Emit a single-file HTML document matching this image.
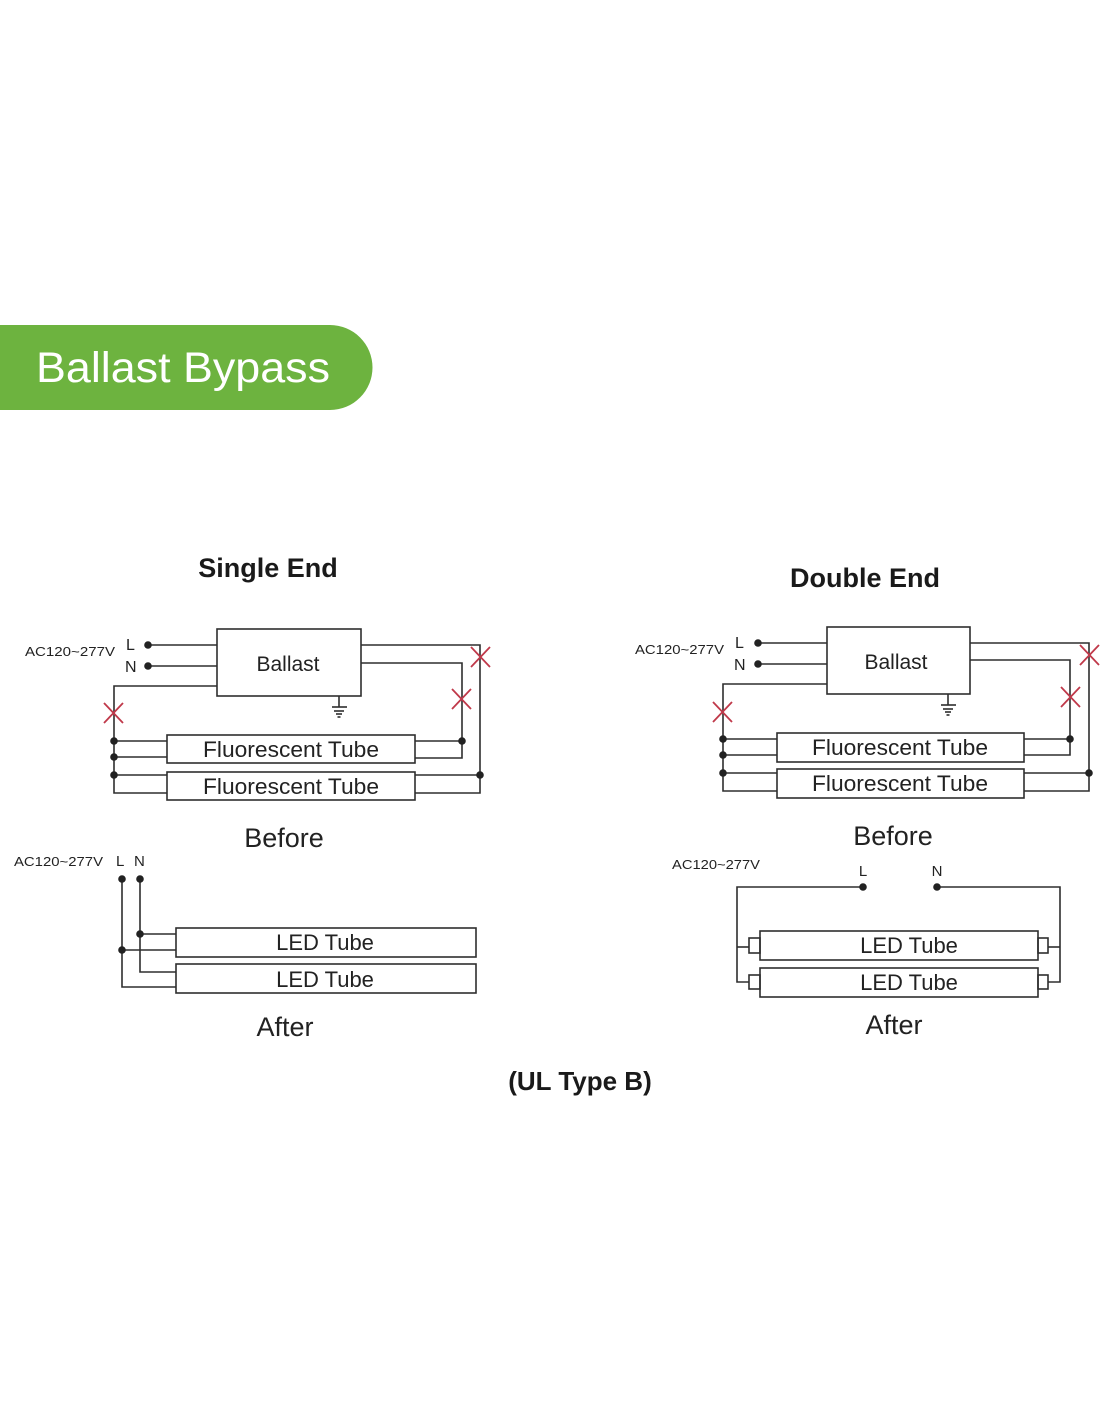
<!DOCTYPE html>
<html>
<head>
<meta charset="utf-8">
<style>
html,body{margin:0;padding:0;background:#fff;}
svg{display:block;}
text{font-family:"Liberation Sans",Arial,sans-serif;fill:#222;}
</style>
</head>
<body>
<svg width="1100" height="1422" viewBox="0 0 1100 1422" xmlns="http://www.w3.org/2000/svg">
<rect width="1100" height="1422" fill="#fff"/>
<!-- Banner -->
<path d="M0 325 H330 A42.5 42.5 0 0 1 330 410 H0 Z" fill="#6db33f"/>
<text x="36" y="382" font-size="43" style="fill:#fff" textLength="294" lengthAdjust="spacingAndGlyphs">Ballast Bypass</text>

<!-- Titles -->
<text x="268" y="577" font-size="27" font-weight="bold" text-anchor="middle" style="fill:#1a1a1a">Single End</text>
<text x="865" y="587" font-size="27" font-weight="bold" text-anchor="middle" style="fill:#1a1a1a">Double End</text>
<text x="580" y="1090" font-size="26" font-weight="bold" text-anchor="middle" style="fill:#1a1a1a">(UL Type B)</text>

<text x="284" y="847" font-size="27" text-anchor="middle">Before</text>
<text x="893" y="845" font-size="27" text-anchor="middle">Before</text>
<text x="285" y="1036" font-size="27" text-anchor="middle">After</text>
<text x="894" y="1034" font-size="27" text-anchor="middle">After</text>

<g stroke="#2e2e2e" stroke-width="1.6" fill="none">
<!-- ===== Single End Before ===== -->
<rect x="217" y="629" width="144" height="67"/>
<line x1="148" y1="645" x2="217" y2="645"/>
<line x1="148" y1="666" x2="217" y2="666"/>
<polyline points="217,686 114,686 114,793 167,793"/>
<line x1="114" y1="741" x2="167" y2="741"/>
<line x1="114" y1="757" x2="167" y2="757"/>
<line x1="114" y1="775" x2="167" y2="775"/>
<rect x="167" y="735" width="248" height="28"/>
<rect x="167" y="772" width="248" height="28"/>
<polyline points="361,645 480,645 480,793 415,793"/>
<polyline points="361,663 462,663 462,758 415,758"/>
<line x1="415" y1="741" x2="462" y2="741"/>
<line x1="415" y1="775" x2="480" y2="775"/>
<line x1="339" y1="696" x2="339" y2="707"/>
<line x1="332" y1="707" x2="347" y2="707"/>
<line x1="334" y1="711" x2="344" y2="711"/>
<line x1="336" y1="714" x2="342" y2="714"/>
<line x1="337.5" y1="717" x2="340.5" y2="717"/>

<!-- ===== Single End After ===== -->
<polyline points="122,879 122,987 176,987"/>
<polyline points="140,879 140,972 176,972"/>
<line x1="122" y1="950" x2="176" y2="950"/>
<line x1="140" y1="934" x2="176" y2="934"/>
<rect x="176" y="928" width="300" height="29"/>
<rect x="176" y="964" width="300" height="29"/>

<!-- ===== Double End Before ===== -->
<rect x="827" y="627" width="143" height="67"/>
<line x1="758" y1="643" x2="827" y2="643"/>
<line x1="758" y1="664" x2="827" y2="664"/>
<polyline points="827,684 723,684 723,791 777,791"/>
<line x1="723" y1="739" x2="777" y2="739"/>
<line x1="723" y1="755" x2="777" y2="755"/>
<line x1="723" y1="773" x2="777" y2="773"/>
<rect x="777" y="733" width="247" height="29"/>
<rect x="777" y="769" width="247" height="29"/>
<polyline points="970,643 1089,643 1089,791 1024,791"/>
<polyline points="970,660 1070,660 1070,755 1024,755"/>
<line x1="1024" y1="739" x2="1070" y2="739"/>
<line x1="1024" y1="773" x2="1089" y2="773"/>
<line x1="948" y1="694" x2="948" y2="705"/>
<line x1="941" y1="705" x2="956" y2="705"/>
<line x1="943" y1="709" x2="953" y2="709"/>
<line x1="945" y1="712" x2="951" y2="712"/>
<line x1="946.5" y1="715" x2="949.5" y2="715"/>

<!-- ===== Double End After ===== -->
<polyline points="863,887 737,887 737,982 749,982"/>
<line x1="737" y1="947" x2="749" y2="947"/>
<polyline points="937,887 1060,887 1060,982 1048,982"/>
<line x1="1048" y1="947" x2="1060" y2="947"/>
<rect x="760" y="931" width="278" height="29"/>
<rect x="760" y="968" width="278" height="29"/>
<rect x="749" y="938" width="11" height="15"/>
<rect x="749" y="975" width="11" height="14"/>
<rect x="1038" y="938" width="10" height="15"/>
<rect x="1038" y="975" width="10" height="14"/>
</g>

<!-- Dots -->
<g fill="#222">
<circle cx="148" cy="645" r="3.8"/>
<circle cx="148" cy="666" r="3.8"/>
<circle cx="114" cy="741" r="3.8"/>
<circle cx="114" cy="757" r="3.8"/>
<circle cx="114" cy="775" r="3.8"/>
<circle cx="462" cy="741" r="3.8"/>
<circle cx="480" cy="775" r="3.8"/>
<circle cx="122" cy="879" r="3.8"/>
<circle cx="140" cy="879" r="3.8"/>
<circle cx="122" cy="950" r="3.8"/>
<circle cx="140" cy="934" r="3.8"/>
<circle cx="758" cy="643" r="3.8"/>
<circle cx="758" cy="664" r="3.8"/>
<circle cx="723" cy="739" r="3.8"/>
<circle cx="723" cy="755" r="3.8"/>
<circle cx="723" cy="773" r="3.8"/>
<circle cx="1070" cy="739" r="3.8"/>
<circle cx="1089" cy="773" r="3.8"/>
<circle cx="863" cy="887" r="3.8"/>
<circle cx="937" cy="887" r="3.8"/>
</g>

<!-- Red X marks -->
<g stroke="#c0394a" stroke-width="1.8" fill="none">
<path d="M104 703 L123 723 M123 703 L104 723"/>
<path d="M471 647 L490 667 M490 647 L471 667"/>
<path d="M452 689 L471 709 M471 689 L452 709"/>
<path d="M713 702 L732 722 M732 702 L713 722"/>
<path d="M1080 645 L1099 665 M1099 645 L1080 665"/>
<path d="M1061 687 L1080 707 M1080 687 L1061 707"/>
</g>

<!-- Labels -->
<text x="25" y="656" font-size="13" textLength="90" lengthAdjust="spacingAndGlyphs">AC120~277V</text>
<text x="126" y="650" font-size="16">L</text>
<text x="125" y="672" font-size="16">N</text>
<text x="635" y="654" font-size="13" textLength="89" lengthAdjust="spacingAndGlyphs">AC120~277V</text>
<text x="735" y="648" font-size="16">L</text>
<text x="734" y="670" font-size="16">N</text>
<text x="14" y="866" font-size="13" textLength="89" lengthAdjust="spacingAndGlyphs">AC120~277V</text>
<text x="116" y="866" font-size="15">L</text>
<text x="134" y="866" font-size="15">N</text>
<text x="672" y="869" font-size="13" textLength="88" lengthAdjust="spacingAndGlyphs">AC120~277V</text>
<text x="863" y="876" font-size="15" text-anchor="middle">L</text>
<text x="937" y="876" font-size="15" text-anchor="middle">N</text>

<text x="288" y="671" font-size="21" text-anchor="middle">Ballast</text>
<text x="896" y="669" font-size="21" text-anchor="middle">Ballast</text>
<text x="291" y="757" font-size="22" text-anchor="middle" textLength="176" lengthAdjust="spacingAndGlyphs">Fluorescent Tube</text>
<text x="291" y="794" font-size="22" text-anchor="middle" textLength="176" lengthAdjust="spacingAndGlyphs">Fluorescent Tube</text>
<text x="900" y="755" font-size="22" text-anchor="middle" textLength="176" lengthAdjust="spacingAndGlyphs">Fluorescent Tube</text>
<text x="900" y="791" font-size="22" text-anchor="middle" textLength="176" lengthAdjust="spacingAndGlyphs">Fluorescent Tube</text>
<text x="325" y="950" font-size="22" text-anchor="middle">LED Tube</text>
<text x="325" y="987" font-size="22" text-anchor="middle">LED Tube</text>
<text x="909" y="953" font-size="22" text-anchor="middle">LED Tube</text>
<text x="909" y="990" font-size="22" text-anchor="middle">LED Tube</text>
</svg>
</body>
</html>
